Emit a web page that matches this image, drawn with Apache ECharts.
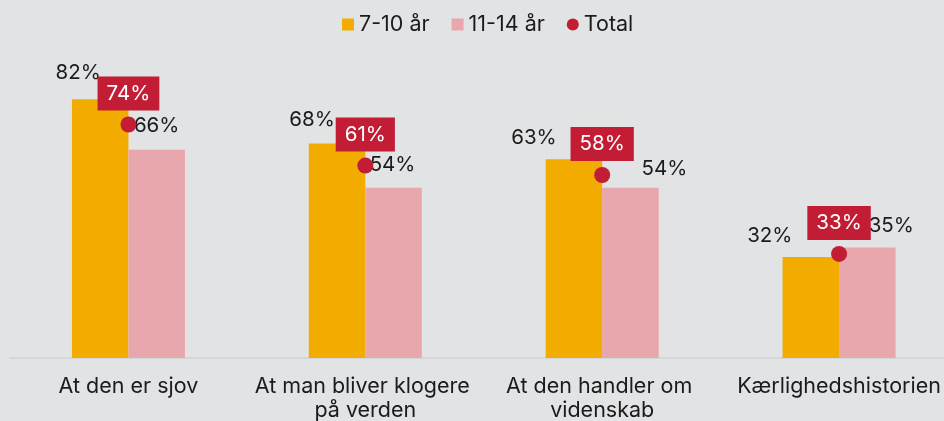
<!DOCTYPE html>
<html>
<head>
<meta charset="utf-8">
<script src="https://cdn.jsdelivr.net/npm/echarts@6/dist/echarts.min.js"></script>
<style>
html,body{margin:0;padding:0;background:#e2e3e5;}
#c{width:944px;height:421px;}
</style>
</head>
<body>
<div id="c"></div>
<script>
const categories = ["At den er sjov", "At man bliver klogere på verden", "At den handler om videnskab", "Kærlighedshistorien"];
const seriesNames = ["7-10 år", "11-14 år", "Total"];
const young = [82, 68, 63, 32];
const older = [66, 54, 54, 35];
const total = [74, 61, 58, 33];

// label nudges (layout only)
const youngLabelShift = [[-22, -14], [-25, -12], [-40, -9], [-41, -9]];
const olderLabelShift = [[0, -12], [-1, -11], [34, -7], [24, -10]];

const FONT = "Inter, 'Noto Sans', sans-serif";
const TXT = "#1b1b1b";
const ORANGE = "#F2AC00";
const PINK = "#E8A7AC";
const RED = "#C21D34";

function barData(vals, shifts) {
  return vals.map((v, i) => ({ value: v, label: { offset: shifts[i] } }));
}

const chart = echarts.init(document.getElementById('c'), null, { renderer: 'canvas' });
chart.setOption({
  backgroundColor: '#e2e3e5',
  animation: false,
  textStyle: { fontFamily: FONT },
  legend: {
    left: 337,
    top: 7.5,
    itemWidth: 12,
    itemHeight: 12,
    itemGap: 22,
    textStyle: { fontFamily: FONT, fontSize: 21.5, color: TXT, lineHeight: 24 },
    data: [
      { name: seriesNames[0], icon: 'rect' },
      { name: seriesNames[1], icon: 'rect' },
      { name: seriesNames[2], icon: 'circle' }
    ]
  },
  grid: { left: 10, width: 947.5, top: 42.5, bottom: 63, outerBoundsMode: 'none' },
  xAxis: {
    type: 'category',
    data: categories,
    axisTick: { show: false },
    axisLine: { show: true, lineStyle: { color: '#d5d6d8', width: 2 } },
    axisLabel: {
      interval: 0,
      margin: 17,
      fontFamily: FONT,
      fontSize: 21.5,
      color: TXT,
      lineHeight: 24,
      width: 235,
      overflow: 'break'
    }
  },
  yAxis: { type: 'value', min: 0, max: 100, show: false, splitLine: { show: false } },
  series: [
    {
      name: seriesNames[0],
      type: 'bar',
      barWidth: 56.5,
      barGap: '0%',
      itemStyle: { color: ORANGE },
      label: {
        show: true, position: 'top', distance: 0, formatter: '{c}%',
        fontFamily: FONT, fontSize: 20.5, color: TXT, lineHeight: 24
      },
      data: barData(young, youngLabelShift)
    },
    {
      name: seriesNames[1],
      type: 'bar',
      barWidth: 56.5,
      barGap: '0%',
      itemStyle: { color: PINK },
      label: {
        show: true, position: 'top', distance: 0, formatter: '{c}%',
        fontFamily: FONT, fontSize: 20.5, color: TXT, lineHeight: 24
      },
      data: barData(older, olderLabelShift)
    },
    {
      name: seriesNames[2],
      type: 'scatter',
      symbol: 'circle',
      symbolSize: 16,
      z: 5,
      itemStyle: { color: RED, opacity: 1 },
      label: {
        show: true, position: 'top', distance: 6, formatter: '{c}%',
        fontFamily: FONT, fontSize: 20.5, color: '#ffffff', lineHeight: 24,
        backgroundColor: RED, padding: [5, 9, 5, 9]
      },
      data: total
    }
  ]
});
</script>
</body>
</html>
